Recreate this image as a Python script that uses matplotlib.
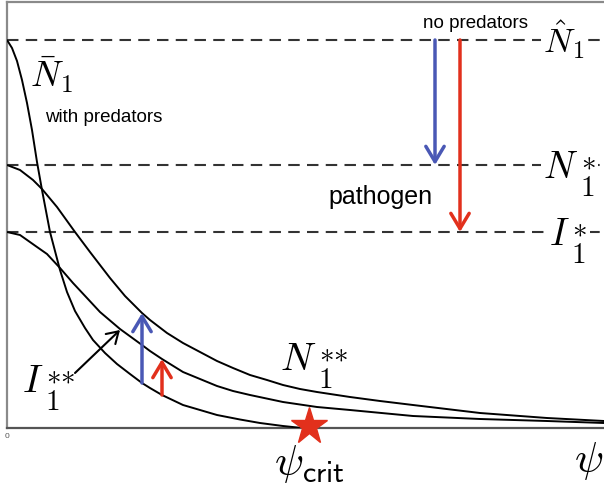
import matplotlib
matplotlib.use("Agg")
import matplotlib.pyplot as plt

plt.rcParams['mathtext.fontset'] = 'cm'
plt.rcParams['font.family'] = ['Liberation Sans', 'DejaVu Sans']

# ---- data (psi in arbitrary units, densities in arbitrary units) ----
nbar_psi = [0, 0.05, 0.10, 0.15, 0.20, 0.25, 0.30, 0.35, 0.43, 0.53, 0.60, 0.68, 0.78,
            0.86, 0.98, 1.10, 1.23, 1.35, 1.43, 1.55, 1.76, 1.93, 2.10, 2.33, 2.53,
            2.76, 2.95]
nbar_val = [3.88, 3.80, 3.67, 3.48, 3.25, 2.98, 2.66, 2.38, 1.96, 1.58, 1.36, 1.17, 1.00,
            0.88, 0.75, 0.64, 0.54, 0.45, 0.40, 0.33, 0.23, 0.18, 0.13, 0.085, 0.05,
            0.02, 0.0]

nss_psi = [0, 0.13, 0.26, 0.35, 0.50, 0.68, 0.83, 1.03, 1.18, 1.35, 1.43, 1.60, 1.76,
           1.93, 2.10, 2.26, 2.43, 2.60, 2.76, 2.93, 3.10, 3.43, 3.73, 4.06, 4.73,
           5.40, 5.97]
nss_val = [2.63, 2.58, 2.48, 2.39, 2.21, 1.96, 1.76, 1.50, 1.32, 1.15, 1.08, 0.95, 0.85,
           0.76, 0.67, 0.60, 0.53, 0.48, 0.43, 0.39, 0.36, 0.31, 0.27, 0.23, 0.15,
           0.10, 0.07]

iss_psi = [0, 0.13, 0.30, 0.40, 0.53, 0.66, 0.80, 0.93, 1.13, 1.35, 1.43, 1.55, 1.76,
           1.93, 2.10, 2.26, 2.43, 2.76, 3.10, 3.43, 4.06, 4.73, 5.40, 5.97]
iss_val = [1.96, 1.93, 1.81, 1.74, 1.60, 1.45, 1.30, 1.16, 0.99, 0.83, 0.77, 0.69, 0.56,
           0.49, 0.42, 0.37, 0.33, 0.26, 0.21, 0.18, 0.12, 0.09, 0.07, 0.05]

levels = {'Nhat': 3.88, 'Nstar': 2.63, 'Istar': 1.96}
psi_crit = 3.02

# arrows: (psi, from, to)
top_blue = (4.28, levels['Nhat'], levels['Nstar'])
top_red = (4.53, levels['Nhat'], levels['Istar'])
bot_blue = (1.35, 0.45, 1.15)
bot_red = (1.55, 0.33, 0.69)

BLUE = '#4a58b5'
RED = '#e2301c'

fig = plt.figure(figsize=(6.04, 4.88), dpi=100)
ax = fig.add_axes([7/604, 60/488, 600/604, 426/488])
ax.set_xlim(0, 6.0)
ax.set_ylim(0, 4.26)
ax.set_xticks([])
ax.set_yticks([])
for s in ['left', 'bottom', 'top', 'right']:
    ax.spines[s].set_color('#8a8a8a')
    ax.spines[s].set_linewidth(1.6)
ax.spines['bottom'].set_color('#555555')

# dashed levels
for v in levels.values():
    ax.axhline(v, color='#333333', lw=1.5, dashes=(5.5, 3.5), zorder=2)

# curves
for xs, ys in [(nbar_psi, nbar_val), (nss_psi, nss_val), (iss_psi, iss_val)]:
    ax.plot(xs, ys, color='black', lw=1.4, solid_capstyle='round',
            solid_joinstyle='round', zorder=3)

def varrow(a, color):
    x, y0, y1 = a
    ax.annotate('', xy=(x, y1), xytext=(x, y0),
                arrowprops=dict(arrowstyle='->,head_length=0.55,head_width=0.33',
                                color=color, lw=2.5, shrinkA=0, shrinkB=0,
                                mutation_scale=20), zorder=5)

varrow(top_blue, BLUE)
varrow(top_red, RED)
varrow(bot_blue, BLUE)
varrow(bot_red, RED)

# I1** pointer
ax.annotate('', xy=(1.13, 0.98), xytext=(0.68, 0.55),
            arrowprops=dict(arrowstyle='->,head_length=0.4,head_width=0.25',
                            color='black', lw=1.5, shrinkA=0, shrinkB=0,
                            mutation_scale=20), zorder=5)

# star
ax.plot([psi_crit], [0.02], marker='*', ms=28, color=RED, mec=RED, clip_on=False, zorder=6)


def tex_label(x, y, base, sup, size, sub_size=21, sup_size=21, box=False):
    """Base letter with TeX-like stacked subscript 1 and asterisks."""
    def bb(p):
        return dict(bbox=dict(facecolor='white', edgecolor='none', pad=p)) if box else {}
    t = ax.text(x, y, base, fontsize=size, ha='left', va='baseline', zorder=4, **bb(1.0))
    ax.annotate(r'$1$', xy=(1, 0), xycoords=t, xytext=(1.2, -7.5),
                textcoords='offset points', fontsize=sub_size,
                ha='left', va='baseline', zorder=4.2, **bb(2.2))
    ax.annotate(sup, xy=(1, 1), xycoords=t, xytext=(1.8, 1.5),
                textcoords='offset points', fontsize=sup_size,
                ha='left', va='top', zorder=4.1, **bb(2.2))
    return t


wb = dict(facecolor='white', edgecolor='none', pad=1.5)
ax.text(5.57, 3.88, r'$\hat{N}_1$', fontsize=25, ha='center', va='center', bbox=wb, zorder=4)
tex_label(5.36, 2.50, r'$N$', r'${\ast}$', 27, box=True)
tex_label(5.42, 1.83, r'$I$', r'${\ast}$', 27, box=True)

ax.text(0.45, 3.53, r'$\bar{N}_1$', fontsize=26, ha='center', va='center', zorder=4)
ax.text(0.38, 3.10, 'with predators', fontsize=13.5, ha='left', va='center', zorder=4)
ax.text(4.69, 4.05, 'no predators', fontsize=13.5, ha='center', va='center', zorder=4)
ax.text(3.74, 2.31, 'pathogen', fontsize=18, ha='center', va='center', zorder=4)
tex_label(2.73, 0.58, r'$N$', r'${\ast}{\ast}$', 28)
tex_label(0.15, 0.36, r'$I$', r'${\ast}{\ast}$', 28)

ax.text(psi_crit, -0.36, r'$\psi_{\mathsf{crit}}$', fontsize=31, ha='center', va='center', clip_on=False)
fig.text(603/604, 0.055, r'$\psi$', fontsize=31, ha='right', va='center')
ax.text(0.0, -0.08, '0', fontsize=6, ha='center', va='center', color='#555555', clip_on=False)

fig.savefig('out.png', dpi=100)
